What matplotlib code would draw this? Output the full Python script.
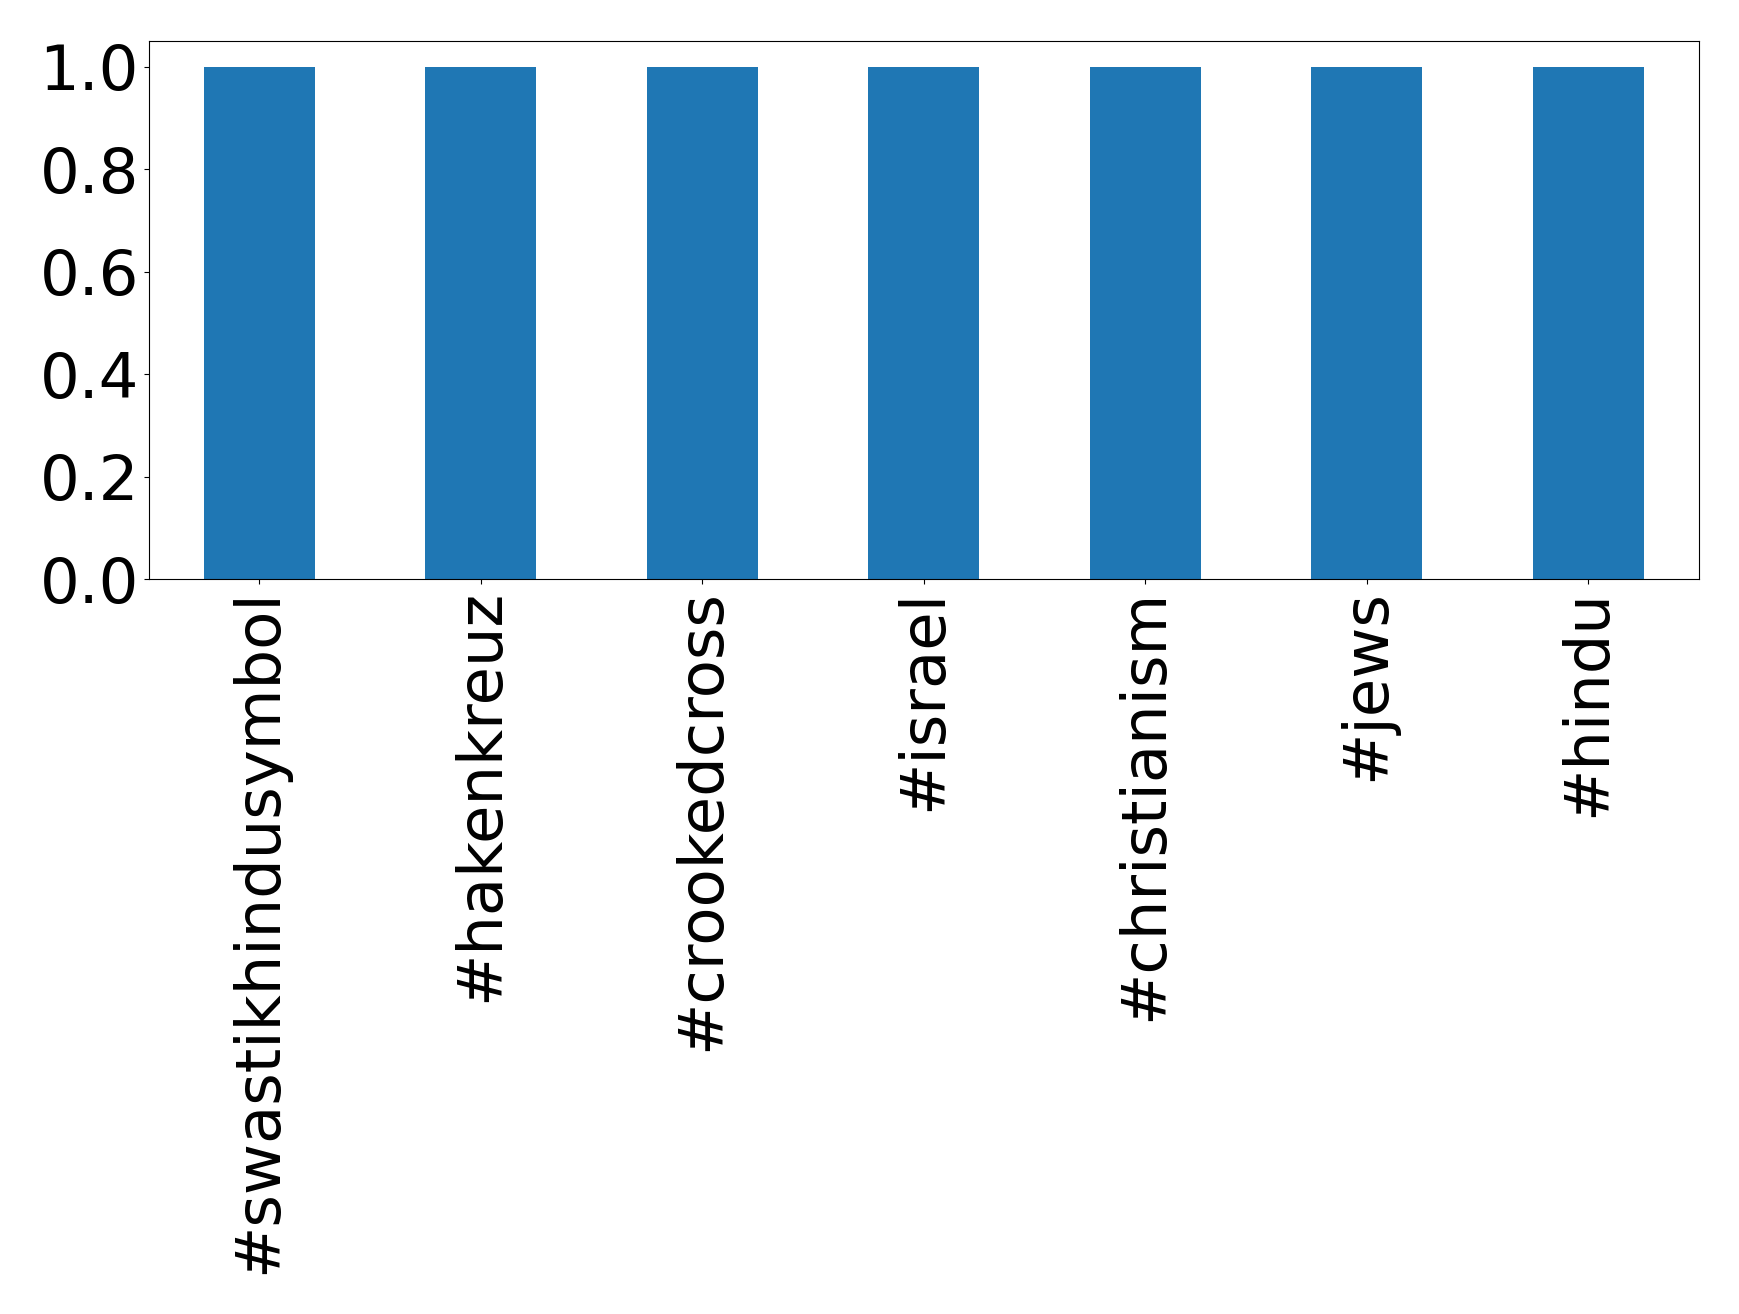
import matplotlib
matplotlib.use("Agg")
import matplotlib.pyplot as plt

categories = ["#swastikhindusymbol", "#hakenkreuz", "#crookedcross", "#israel",
              "#christianism", "#jews", "#hindu"]
values = [1, 1, 1, 1, 1, 1, 1]

W, H = 1739, 1314
fig = plt.figure(figsize=(W / 100, H / 100), dpi=100)
left, right, top, bottom = 148.6, 1699, 41, 579
ax = fig.add_axes([left / W, 1 - bottom / H, (right - left) / W, (bottom - top) / H])

x = list(range(len(categories)))
ax.bar(x, values, width=0.5, color="#1f77b4")
ax.set_xlim(-0.5, len(categories) - 0.5)
ax.set_ylim(0, 1.05)
ax.set_yticks([0.0, 0.2, 0.4, 0.6, 0.8, 1.0])
ax.set_yticklabels(["0.0", "0.2", "0.4", "0.6", "0.8", "1.0"])
ax.set_xticks(x)
ax.set_xticklabels(categories, rotation=90)
ax.tick_params(axis="both", labelsize=45)

fig.savefig("out.png", dpi=100)
